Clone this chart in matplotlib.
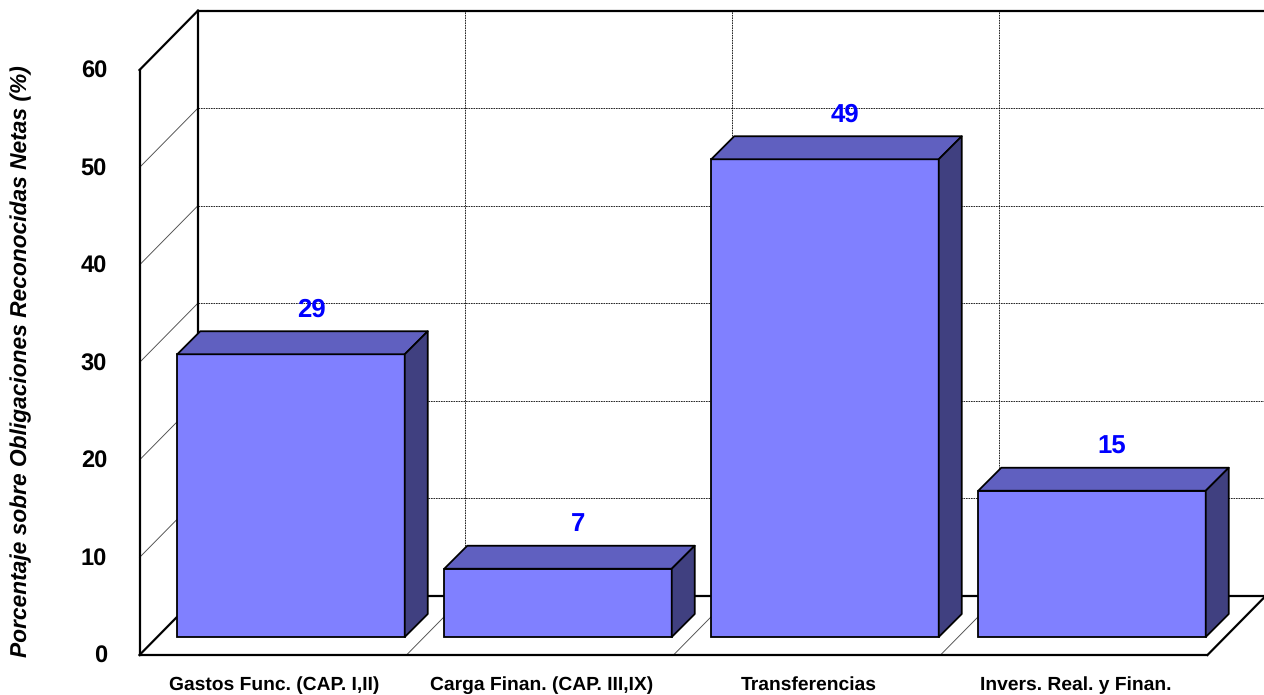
import matplotlib
matplotlib.use("Agg")
import matplotlib.pyplot as plt

# values
categories = ["Gastos Func. (CAP. I,II)", "Carga Finan. (CAP. III,IX)", "Transferencias", "Invers. Real. y Finan."]
values = [29, 7, 49, 15]
y_ticks = [0, 10, 20, 30, 40, 50, 60]
y_title = "Porcentaje sobre Obligaciones Reconocidas Netas (%)"

# pixel layout of the fake 3D box
W, H = 1264, 695
x0_px, y0_px = 139.5, 655
cat_px = 267.0
val_px = 9.75

front = "#8080FF"
top = "#6060C0"
side = "#404080"

plt.rcParams["font.family"] = ["Liberation Sans", "DejaVu Sans"]
plt.rcParams["font.weight"] = "bold"
plt.rcParams["text.hinting"] = "no_hinting"

fig = plt.figure(figsize=(W / 100, H / 100), dpi=100)
ax = fig.add_axes([0, 0, 1, 1])
ax.set_xlim(-x0_px / cat_px, (W - x0_px) / cat_px)
ax.set_ylim((y0_px - H) / val_px, y0_px / val_px)
ax.axis("off")

# depth offsets, converted from pixels to data units
def dx(px):
    return px / cat_px

def dy(px):
    return px / val_px

wall_dx, wall_dy = dx(58.5), dy(59.4)
n = len(categories)
ymax = y_ticks[-1]
right = (W + 5 - x0_px) / cat_px
grid_style = dict(color="black", lw=0.6, ls=(0, (2, 1)), zorder=1)

# gridlines on back wall, side wall and floor
for t in y_ticks[1:-1]:
    ax.plot([wall_dx, right], [t + wall_dy, t + wall_dy], **grid_style)
    ax.plot([0, wall_dx], [t, t + wall_dy], color="#404040", lw=0.6, zorder=1)
for i in range(1, n):
    ax.plot([i + wall_dx, i + wall_dx], [wall_dy, ymax + wall_dy], **grid_style)
    ax.plot([i, i + wall_dx], [0, wall_dy], color="#404040", lw=0.6, zorder=1)

# box outline
box = dict(color="black", lw=1.6, zorder=2, solid_capstyle="projecting")
ax.plot([0, 0], [0, ymax], **box)
ax.plot([wall_dx, wall_dx], [wall_dy, ymax + wall_dy], **box)
ax.plot([0, wall_dx], [ymax, ymax + wall_dy], **box)
ax.plot([0, wall_dx], [0, wall_dy], **box)
ax.plot([wall_dx, right], [ymax + wall_dy, ymax + wall_dy], **box)
ax.plot([wall_dx, right], [wall_dy, wall_dy], **box)
ax.plot([0, n], [0, 0], **box)
ax.plot([n, n + wall_dx], [0, wall_dy], **box)

# bars
off_x, off_y = dx(18), dy(18)
bar_w = 227.5 / cat_px
d_x, d_y = dx(23), dy(23)
centers = [i + 0.5 + off_x for i in range(n)]
edge = dict(edgecolor="black", linewidth=1.3, zorder=3)
ax.bar(centers, values, width=bar_w, bottom=off_y, color=front, **edge)
for c, v in zip(centers, values):
    l, r = c - bar_w / 2, c + bar_w / 2
    b, t = off_y, off_y + v
    ax.fill([l, r, r + d_x, l + d_x], [t, t, t + d_y, t + d_y], facecolor=top, joinstyle="round", **edge)
    ax.fill([r, r + d_x, r + d_x, r], [b, b + d_y, t + d_y, t], facecolor=side, joinstyle="round", **edge)
    ax.text(c + dx(20), t + dy(37.5), str(v), color="#0000FF", fontsize=18.5, ha="center", va="baseline", zorder=4)

# labels
for t in y_ticks:
    ax.text(dx(-32.5), t + dy(-8), str(t), fontsize=17, ha="right", va="baseline")
for i, name in enumerate(categories):
    ax.text(i + 0.5 + dx(1.5), dy(-35), name, fontsize=13.9, ha="center", va="baseline")
ax.text(dx(-118), dy(294), y_title, fontsize=16.4, style="italic", rotation=90, ha="center", va="center")

fig.savefig("out.png", dpi=100)
